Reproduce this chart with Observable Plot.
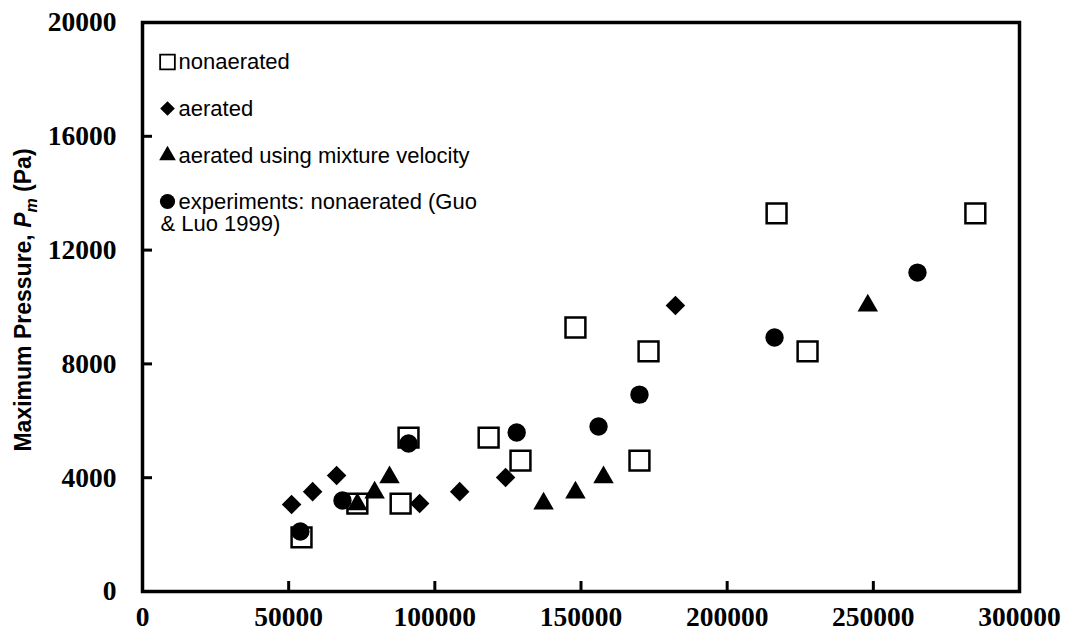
<!DOCTYPE html>
<html><head><meta charset="utf-8">
<script src="https://cdn.jsdelivr.net/npm/d3@7"></script>
<script src="https://cdn.jsdelivr.net/npm/@observablehq/plot@0.6"></script>
<style>body{margin:0;background:#fff}#chart{position:relative}</style>
</head><body><div id="chart"></div>
<script>
// Data
const nonaeratedX = [54400, 73500, 88300, 91000, 118400, 129300, 148100, 173100, 170000, 227500, 216900, 284900];
const nonaeratedY = [1900, 3090, 3090, 5410, 5410, 4600, 9280, 8440, 4600, 8440, 13290, 13290];
const aeratedX = [51000, 58200, 66400, 94800, 108500, 124200, 182300];
const aeratedY = [3060, 3510, 4080, 3090, 3510, 4010, 10050];
const mixtureX = [73500, 79400, 84500, 137200, 148100, 157700, 248100];
const mixtureY = [3060, 3480, 4010, 3090, 3480, 4010, 10050];
const expX = [54000, 68400, 91000, 128000, 156000, 170000, 216200, 265100];
const expY = [2110, 3200, 5200, 5590, 5800, 6920, 8930, 11210];
const xTicks = [0, 50000, 100000, 150000, 200000, 250000, 300000];
const yTicks = [0, 4000, 8000, 12000, 16000, 20000];
const legendLabels = ["nonaerated", "aerated", "aerated using mixture velocity", "experiments: nonaerated (Guo"];
const legendExtraLine = "& Luo 1999)";

const zip = (xs, ys) => xs.map((x, i) => ({x, y: ys[i]}));
const sq = zip(nonaeratedX, nonaeratedY);
const di = zip(aeratedX, aeratedY);
const tr = zip(mixtureX, mixtureY);
const ci = zip(expX, expY);

const legendSymbols = ["square", "diamond2", "triangle", "circle"];
const legendFill = ["white", "black", "black", "black"];
const legendR = [8.3, 6.6, 6.2, 7.6];
const legendDy = [39.5, 86, 133, 179];
const legendFont = {fontFamily: "Liberation Sans, Arial, sans-serif", fontSize: 22, fontWeight: "normal", fill: "black",
  textAnchor: "start", lineAnchor: "middle", frameAnchor: "top-left"};

const legendMarks = [];
legendLabels.forEach((lab, i) => {
  legendMarks.push(Plot.dot([0], {frameAnchor: "top-left", dx: 25, dy: legendDy[i], symbol: legendSymbols[i],
    r: legendR[i], fill: legendFill[i], stroke: "black", strokeWidth: i === 0 ? 1.8 : 0}));
  legendMarks.push(Plot.text([lab], {...legendFont, dx: 36, dy: legendDy[i], text: d => d}));
});
legendMarks.push(Plot.text([legendExtraLine], {...legendFont, dx: 18, dy: legendDy[3] + 22.5, text: d => d}));

const W = 1066, H = 639, mL = 142, mR = 47, mT = 22, mB = 48;
const frameW = W - mL - mR, frameH = H - mT - mB, tickLen = 10;

const plot = Plot.plot({
  width: W, height: H,
  marginLeft: mL, marginRight: mR, marginTop: mT, marginBottom: mB,
  style: {fontFamily: "Liberation Serif, 'Times New Roman', serif", fontSize: "27.5px", fontWeight: "bold", color: "black", background: "white"},
  x: {domain: [0, 300000], label: null},
  y: {domain: [0, 20000], label: null},
  marks: [
    Plot.axisX({ticks: xTicks, tickFormat: d => String(d), tickSize: 0, tickPadding: 15, label: null}),
    Plot.axisY({ticks: yTicks, tickFormat: d => String(d), tickSize: 0, tickPadding: 26, label: null}),
    Plot.tickX(xTicks, {x: d => d, insetTop: frameH - tickLen, stroke: "black", strokeWidth: 3}),
    Plot.tickY(yTicks, {y: d => d, insetRight: frameW - tickLen, stroke: "black", strokeWidth: 3}),
    Plot.dot(sq, {x: "x", y: "y", symbol: "square", r: 11.2, fill: "white", stroke: "black", strokeWidth: 2.5}),
    Plot.dot(di, {x: "x", y: "y", symbol: "diamond2", r: 8.8, fill: "black", stroke: "none"}),
    Plot.dot(tr, {x: "x", y: "y", symbol: "triangle", r: 7.6, fill: "black", stroke: "none"}),
    Plot.dot(ci, {x: "x", y: "y", symbol: "circle", r: 9.2, fill: "black", stroke: "none"}),
    ...legendMarks,
    Plot.frame({stroke: "black", strokeWidth: 3.5})
  ]
});

const svg = d3.select(plot);
const t = svg.append("text")
  .attr("transform", "translate(31,300) rotate(-90)")
  .attr("text-anchor", "middle")
  .attr("font-family", "Liberation Sans, Arial, sans-serif")
  .attr("font-size", 23).attr("font-weight", "bold").attr("fill", "black");
t.append("tspan").text("Maximum Pressure, ");
t.append("tspan").attr("font-style", "italic").text("P");
t.append("tspan").attr("font-style", "italic").attr("font-size", 16).attr("dy", 6).text("m");
t.append("tspan").attr("dy", -6).text(" (Pa)");

document.getElementById("chart").appendChild(plot);
</script>
</body></html>
